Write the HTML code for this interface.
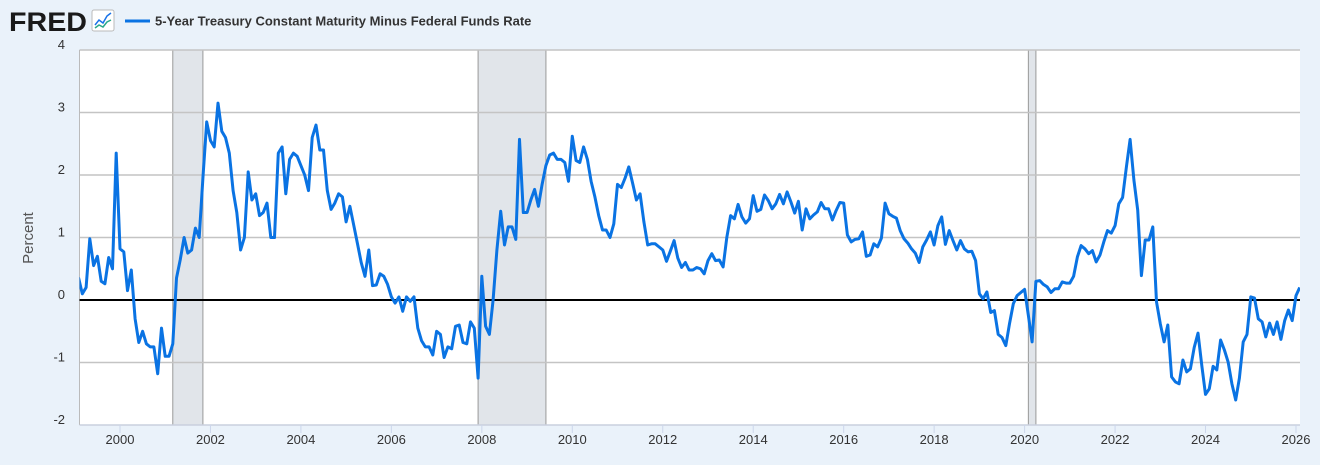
<!DOCTYPE html>
<html><head><meta charset="utf-8"><style>
body{margin:0;background:#eaf2fa;font-family:"Liberation Sans",sans-serif;}
#wrap{position:relative;width:1320px;height:465px;overflow:hidden;background:#eaf2fa;}
</style></head><body>
<div id="wrap">
<svg id="svg" width="1320" height="465" xmlns="http://www.w3.org/2000/svg">
  <text x="9" y="31" font-family="Liberation Sans" font-weight="bold" font-size="27" fill="#1a1a1a" textLength="78" lengthAdjust="spacingAndGlyphs">FRED</text>
  <g>
    <rect x="92" y="10" width="22" height="21" rx="2" fill="#fff" stroke="#bbb"/>
    <polyline points="95,25 99,20 103,23 107,16 111,13" fill="none" stroke="#1a73e8" stroke-width="1.5"/>
    <polyline points="95,28 99,25 103,27 107,22 111,20" fill="none" stroke="#2aa889" stroke-width="1.5"/>
  </g>
  <line x1="125" y1="21" x2="150" y2="21" stroke="#0a73e3" stroke-width="3"/>
  <text x="155" y="25.5" font-size="13" font-weight="bold" fill="#333">5-Year Treasury Constant Maturity Minus Federal Funds Rate</text>
  <g id="plot"></g>
</svg>
</div>
<script>
const yTicks = [4,3,2,1,0,-1,-2];
const xTickYears = [2000,2002,2004,2006,2008,2010,2012,2014,2016,2018,2020,2022,2024,2026];
const recessionStarts = [2001.167, 2007.917, 2020.083];
const recessionEnds = [2001.833, 2009.417, 2020.25];
const startYear = 1999;
const startMonth = 1; // Feb 1999 (0-based)
const values1999 = [0.36,0.1,0.2,0.98,0.55,0.7,0.3,0.26,0.68,0.5,2.35];
const values2000 = [0.82,0.77,0.15,0.48,-0.3,-0.68,-0.5,-0.7,-0.75,-0.75,-1.18,-0.45];
const values2001 = [-0.9,-0.9,-0.7,0.35,0.65,1.0,0.75,0.8,1.15,1.0,1.95,2.85];
const values2002 = [2.55,2.45,3.15,2.7,2.6,2.35,1.75,1.4,0.8,1.0,2.05,1.6];
const values2003 = [1.7,1.35,1.4,1.55,1.0,1.0,2.35,2.45,1.7,2.25,2.35,2.3];
const values2004 = [2.15,2.0,1.75,2.6,2.8,2.4,2.4,1.75,1.45,1.55,1.7,1.65];
const values2005 = [1.25,1.5,1.2,0.9,0.6,0.38,0.8,0.23,0.24,0.42,0.38,0.25];
const values2006 = [0.05,-0.05,0.05,-0.18,0.05,-0.02,0.05,-0.45,-0.65,-0.75,-0.75,-0.88];
const values2007 = [-0.5,-0.55,-0.92,-0.75,-0.78,-0.42,-0.4,-0.68,-0.7,-0.35,-0.45,-1.25];
const values2008 = [0.38,-0.42,-0.55,0.0,0.8,1.42,0.88,1.17,1.17,0.97,2.57,1.4];
const values2009 = [1.4,1.6,1.77,1.5,1.85,2.15,2.32,2.35,2.25,2.25,2.2,1.9];
const values2010 = [2.62,2.23,2.2,2.45,2.25,1.9,1.65,1.35,1.12,1.12,1.0,1.22];
const values2011 = [1.85,1.8,1.95,2.13,1.87,1.6,1.7,1.25,0.88,0.9,0.9,0.85];
const values2012 = [0.8,0.62,0.78,0.95,0.67,0.52,0.6,0.48,0.48,0.52,0.5,0.42];
const values2013 = [0.63,0.74,0.63,0.64,0.53,1.0,1.35,1.3,1.53,1.33,1.23,1.3];
const values2014 = [1.67,1.42,1.45,1.68,1.59,1.46,1.54,1.69,1.54,1.73,1.57,1.39];
const values2015 = [1.58,1.12,1.46,1.3,1.36,1.41,1.56,1.46,1.46,1.28,1.43,1.56];
const values2016 = [1.55,1.04,0.93,0.97,0.98,1.09,0.7,0.72,0.9,0.85,0.99,1.55];
const values2017 = [1.38,1.34,1.31,1.11,0.98,0.91,0.82,0.75,0.6,0.85,0.96,1.09];
const values2018 = [0.88,1.19,1.33,0.89,1.11,0.95,0.8,0.95,0.82,0.77,0.78,0.63];
const values2019 = [0.1,0.02,0.13,-0.2,-0.17,-0.55,-0.6,-0.73,-0.38,-0.06,0.07,0.12];
const values2020 = [0.17,-0.25,-0.67,0.3,0.31,0.25,0.21,0.12,0.18,0.18,0.29,0.27];
const values2021 = [0.27,0.38,0.69,0.87,0.82,0.74,0.79,0.61,0.72,0.93,1.11,1.07];
const values2022 = [1.19,1.54,1.64,2.13,2.57,1.92,1.44,0.39,0.96,0.96,1.17,-0.03];
const values2023 = [-0.38,-0.67,-0.4,-1.23,-1.31,-1.34,-0.96,-1.15,-1.1,-0.76,-0.53,-1.05];
const values2024 = [-1.51,-1.42,-1.06,-1.12,-0.64,-0.8,-0.99,-1.34,-1.6,-1.25,-0.67,-0.55];
const values2025 = [0.05,0.03,-0.3,-0.35,-0.59,-0.37,-0.55,-0.35,-0.63,-0.33,-0.16,-0.33];
const values2026 = [0.07,0.2];

const NS='http://www.w3.org/2000/svg';
const plot=document.getElementById('plot');
const L=79.5,R=1300,T=50,B=425;
const yMin=-2,yMax=4;
function xScale(t){return 120+(t-2000)*45.23;}
function yScale(v){return B-(v-yMin)/(yMax-yMin)*(B-T);}
function mk(tag,attrs){const e=document.createElementNS(NS,tag);for(const k in attrs)e.setAttribute(k,attrs[k]);plot.appendChild(e);return e;}

const bg=mk('rect',{x:L,y:T,width:R-L,height:B-T,fill:'#fff'});



recessionStarts.forEach((s,i)=>{
  const x1=xScale(s),x2=xScale(recessionEnds[i]);
  const r=mk('rect',{x:x1,y:T,width:x2-x1,height:B-T,fill:'#e1e5ea',stroke:'#999','stroke-width':1});
  
  
});

yTicks.forEach(v=>{
  const y=yScale(v);
  if(v!==0){
    const g=mk('line',{x1:L,x2:R,y1:y,y2:y,stroke:'#c4c4c4','stroke-width':1.5});
    
    
  }
  const t=mk('text',{x:65,y:y-1,'text-anchor':'end','font-size':13,fill:'#333'});
  t.textContent=v;
  
  
});

const ax=mk('line',{x1:L,x2:L,y1:T,y2:B,stroke:'#bbb','stroke-width':1});


const bx=mk('line',{x1:L,x2:R,y1:B,y2:B,stroke:'#ccd6eb','stroke-width':1});



xTickYears.forEach(yr=>{
  const x=xScale(yr);
  const tk=mk('line',{x1:x,x2:x,y1:B,y2:B+8,stroke:'#ccd6eb','stroke-width':1});
  
  
  const t=mk('text',{x:x,y:B+19,'text-anchor':'middle','font-size':13,fill:'#333'});
  t.textContent=yr;
  
  
});

const yt=mk('text',{x:0,y:0,'text-anchor':'middle','font-size':15,fill:'#555',transform:'translate(33,238) rotate(-90)'});
yt.textContent='Percent';



const z=mk('line',{x1:L,x2:R,y1:yScale(0),y2:yScale(0),stroke:'#000','stroke-width':2});



const all=[].concat(values1999,values2000,values2001,values2002,values2003,values2004,values2005,values2006,values2007,values2008,values2009,values2010,values2011,values2012,values2013,values2014,values2015,values2016,values2017,values2018,values2019,values2020,values2021,values2022,values2023,values2024,values2025,values2026);
const pts=all.map((v,i)=>{const t=startYear+(startMonth+i)/12;return xScale(t).toFixed(1)+','+yScale(v).toFixed(1);});
const cp=document.createElementNS(NS,'clipPath');cp.setAttribute('id','clip');
const cr=document.createElementNS(NS,'rect');cr.setAttribute('x',L);cr.setAttribute('y',T-5);cr.setAttribute('width',R-L);cr.setAttribute('height',B-T+10);
cp.appendChild(cr);plot.appendChild(cp);
const line=mk('polyline',{points:pts.join(' '),fill:'none',stroke:'#0a73e3','stroke-width':3,'stroke-linejoin':'round','clip-path':'url(#clip)'});


</script>
</body></html>
